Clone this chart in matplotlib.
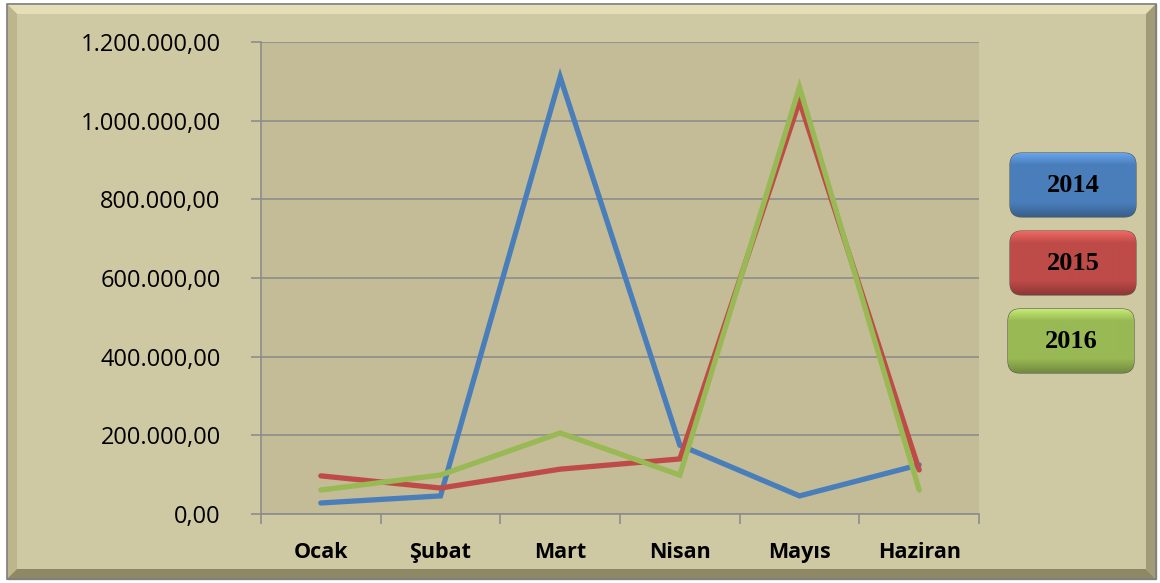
import numpy as np
import matplotlib
matplotlib.use("Agg")
import matplotlib.pyplot as plt
from matplotlib.patches import Rectangle, Polygon, FancyBboxPatch
from matplotlib.ticker import FuncFormatter

# data
months = ["Ocak", "Şubat", "Mart", "Nisan", "Mayıs", "Haziran"]
y2014 = [28000, 46000, 1111000, 175000, 46000, 125000]
y2015 = [97000, 66000, 114000, 140000, 1050000, 112000]
y2016 = [61000, 99000, 206000, 99000, 1085000, 61000]
years = ["2014", "2015", "2016"]
colors = ["#4a7ebb", "#be4b48", "#98b954"]

W, H = 1160, 583
fig = plt.figure(figsize=(W / 100, H / 100), dpi=100)
fig.patch.set_facecolor("white")

# background frame drawn in pixel coordinates
bg = fig.add_axes([0, 0, 1, 1], zorder=0)
bg.set_xlim(0, W)
bg.set_ylim(H, 0)
bg.axis("off")
x0, y0, x1, y1, b = 7, 4, 1156, 579, 10
bg.add_patch(Rectangle((x0, y0), x1 - x0, y1 - y0, facecolor="#cfc9a3",
                       edgecolor="#8a8a8a", lw=1))
bg.add_patch(Polygon([(x0, y0), (x1, y0), (x1 - b, y0 + b), (x0 + b, y0 + b)],
                     facecolor="#e4dfb8", edgecolor="none"))
bg.add_patch(Polygon([(x0, y0), (x0 + b, y0 + b), (x0 + b, y1 - b), (x0, y1)],
                     facecolor="#bdb68c", edgecolor="none"))
bg.add_patch(Polygon([(x0, y1), (x0 + b, y1 - b), (x1 - b, y1 - b), (x1, y1)],
                     facecolor="#8e8964", edgecolor="none"))
bg.add_patch(Polygon([(x1, y0), (x1, y1), (x1 - b, y1 - b), (x1 - b, y0 + b)],
                     facecolor="#a19c77", edgecolor="none"))
bg.add_patch(Rectangle((x0, y0), x1 - x0, y1 - y0, facecolor="none",
                       edgecolor="#7f7f7f", lw=1.2))

# legend buttons
boxes = [(1010, 153), (1010, 231), (1008, 309)]
for (bx, by), yr, c in zip(boxes, years, colors):
    bw, bh = 126, 64
    base = np.array(matplotlib.colors.to_rgb(c))
    grad = np.linspace(0, 1, 64)[:, None]
    light = np.clip(base * 1.18 + 0.06, 0, 1)
    dark = base * 0.75
    img = np.zeros((64, 2, 3))
    for k in range(3):
        col = np.where(grad < 0.18, light[k] + (base[k] - light[k]) * grad / 0.18,
                       np.where(grad < 0.78, base[k],
                                base[k] + (dark[k] - base[k]) * (grad - 0.78) / 0.22))
        img[:, :, k] = col
    clip = FancyBboxPatch((bx + 12, by + 12), bw - 24, bh - 24,
                          boxstyle="round,pad=12", facecolor="none",
                          edgecolor="#55554a", lw=0.8)
    bg.add_patch(clip)
    im = bg.imshow(img, extent=(bx, bx + bw, by + bh, by), aspect="auto",
                   interpolation="bilinear", zorder=1)
    im.set_clip_path(clip)
    bg.text(bx + bw / 2, by + bh / 2 + 1, yr, ha="center", va="center",
            fontsize=19, fontweight="bold", family="Liberation Serif",
            color="black", zorder=3)

# main plot
ax = fig.add_axes([261 / W, 69 / H, (979 - 261) / W, (514 - 42) / H], zorder=2)
ax.set_facecolor("#c4bc96")
xs = np.arange(len(months)) + 0.5
for vals, c in zip([y2014, y2015, y2016], colors):
    ax.plot(xs, vals, color=c, lw=3.8, solid_capstyle="round",
            solid_joinstyle="miter")

ax.set_xlim(0, 6)
ax.set_ylim(0, 1200000)
ax.set_yticks(np.arange(0, 1200001, 200000))
ax.yaxis.set_major_formatter(FuncFormatter(
    lambda v, p: f"{v:,.2f}".replace(",", "X").replace(".", ",").replace("X", ".")))
ax.set_xticks(np.arange(0, 7))
ax.set_xticklabels([])
ax.set_xticks(xs, minor=True)
ax.set_xticklabels(months, minor=True, fontsize=15.5, fontweight="bold",
                   family="Open Sans")
ax.tick_params(axis="x", which="minor", length=0, pad=20)
ax.tick_params(axis="x", which="major", length=7, color="#8c8c8c", width=1.2)
ax.tick_params(axis="y", length=7, color="#8c8c8c", width=1.2, pad=22,
               labelsize=17)
for lab in ax.get_yticklabels():
    lab.set_family("Open Sans")
ax.grid(axis="y", color="#8c8c8c", lw=1.2)
ax.set_axisbelow(True)
for s in ["top", "right"]:
    ax.spines[s].set_visible(False)
for s in ["left", "bottom"]:
    ax.spines[s].set_color("#8c8c8c")
    ax.spines[s].set_linewidth(1.2)

fig.savefig("out.png", dpi=100, facecolor=fig.get_facecolor())
